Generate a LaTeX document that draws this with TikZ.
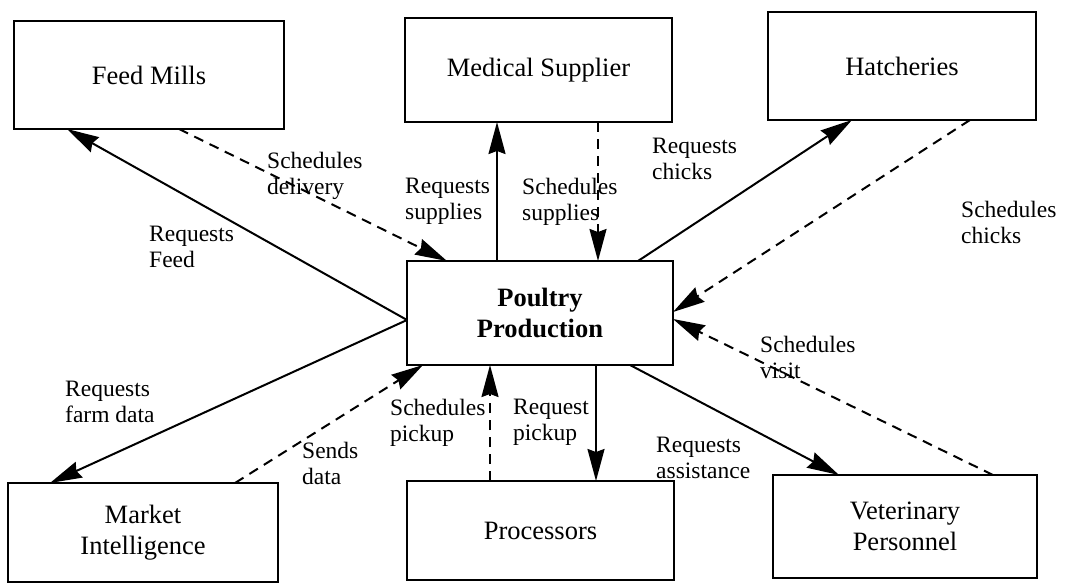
\documentclass[tikz,border=0pt]{standalone}
\usepackage{fontspec}
\setmainfont{Liberation Serif}
\usetikzlibrary{arrows.meta}

\tikzset{
  box/.style={draw, line width=2.2pt, outer sep=0pt, inner sep=0pt, align=center,
              font=\fontsize{26.5}{31}\selectfont},
  lbl/.style={anchor=north west, inner sep=0pt, align=left,
              font=\fontsize{23.5}{26}\selectfont},
  flow/.style={line width=2pt, -{Stealth[length=32pt,width=17pt,inset=3pt]}},
  sched/.style={flow, dash pattern=on 10pt off 7pt},
}

\begin{document}
\begin{tikzpicture}[x=1pt, y=-1pt]
  % page frame
  \fill[white] (0,0) rectangle (1068,583);
  \useasboundingbox (0,0) rectangle (1068,583);

  % partners around the farm
  \node[box, minimum width=270pt, minimum height=108pt] (fm)   at (149,75)    {Feed Mills};
  \node[box, minimum width=267pt, minimum height=104pt] (ms)   at (538.5,70)  {Medical Supplier};
  \node[box, minimum width=268pt, minimum height=108pt] (hat)  at (902,66)    {Hatcheries};
  \node[box, minimum width=266pt, minimum height=104pt] (pp)   at (540,313)   {\textbf{Poultry}\\\textbf{Production}};
  \node[box, minimum width=270pt, minimum height=99pt]  (mi)   at (143,532.5) {Market\\Intelligence};
  \node[box, minimum width=267pt, minimum height=99pt]  (proc) at (540.5,530.5) {Processors};
  \node[box, minimum width=264pt, minimum height=103pt] (vet)  at (905,526.5) {Veterinary\\Personnel};

  % requests (solid) and schedules (dashed)
  \draw[flow]  ([yshift=-7pt]pp.west) -- ([xshift=53pt]fm.south west);
  \draw[flow]  ([yshift=-7pt]pp.west) -- ([xshift=42pt]mi.north west);
  \draw[sched] ([xshift=165pt]fm.south west) -- ([xshift=40pt]pp.north west);
  \draw[flow]  ([xshift=90pt]pp.north west) -- ([xshift=92pt]ms.south west);
  \draw[sched] ([xshift=193pt]ms.south west) -- ([xshift=191pt]pp.north west);
  \draw[flow]  ([xshift=231pt]pp.north west) -- ([xshift=84pt]hat.south west);
  \draw[sched] ([xshift=202pt]hat.south west) -- ([yshift=1pt]pp.east);
  \draw[sched] ([xshift=220pt]vet.north west) -- ([yshift=-6pt]pp.east);
  \draw[flow]  ([xshift=223pt]pp.south west) -- ([xshift=66pt]vet.north west);
  \draw[flow]  ([xshift=189pt]pp.south west) -- ([xshift=189pt]proc.north west);
  \draw[sched] ([xshift=83pt]proc.north west) -- ([xshift=83pt]pp.south west);
  \draw[sched] ([xshift=227pt]mi.north west) -- ([xshift=16pt]pp.south west);

  % connector labels
  \node[lbl] (l1)  at (267,152) {Schedules\\delivery};
  \node[lbl] (l2)  at (149,226) {Requests\\Feed};
  \node[lbl] (l3)  at (405,178) {Requests\\supplies};
  \node[lbl] (l4)  at (522,178) {Schedules\\supplies};
  \node[lbl] (l5)  at (652,138) {Requests\\chicks};
  \node[lbl] (l6)  at (961,201) {Schedules\\chicks};
  \node[lbl] (l7)  at (760,336) {Schedules\\visit};
  \node[lbl] (l8)  at (656,437) {Requests\\assistance};
  \node[lbl] (l9)  at (513,399) {Request\\pickup};
  \node[lbl] (l10) at (390,399) {Schedules\\pickup};
  \node[lbl] (l11) at (65,381)  {Requests\\farm data};
  \node[lbl] (l12) at (302,442) {Sends\\data};
\end{tikzpicture}
\end{document}
